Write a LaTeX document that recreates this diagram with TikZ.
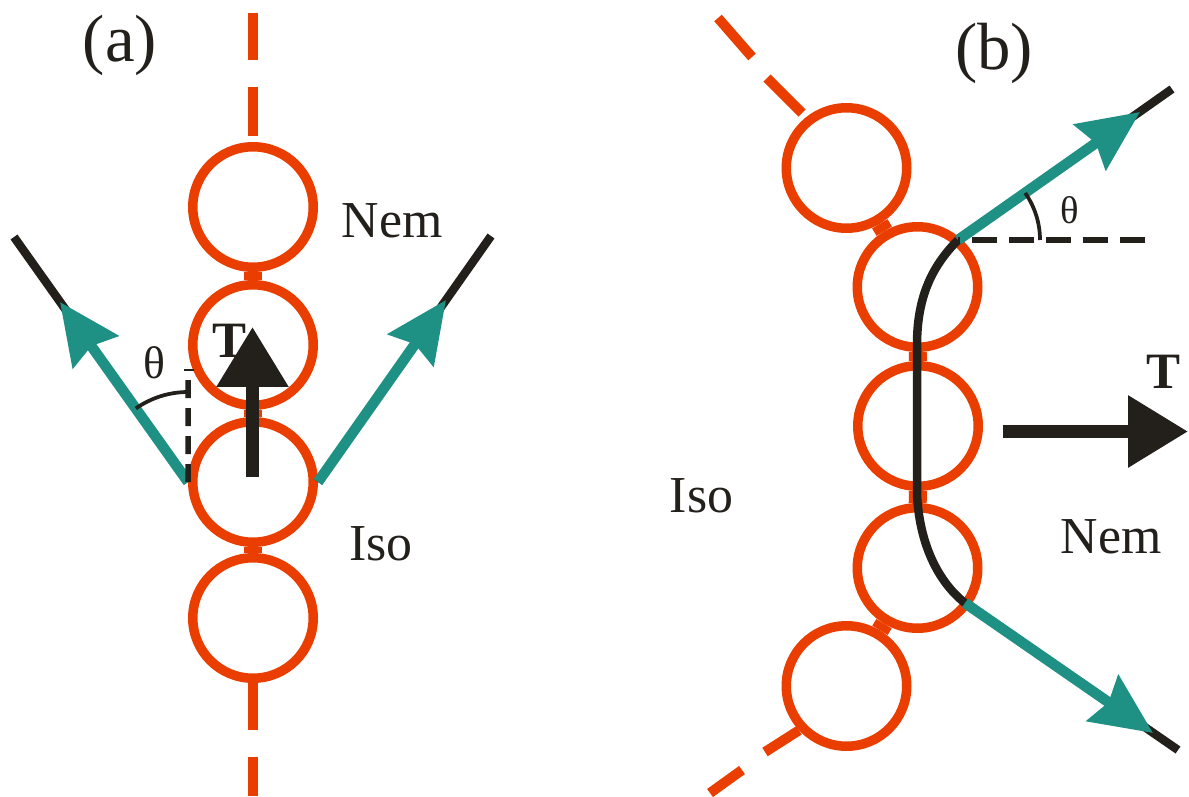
\documentclass[tikz,border=0pt]{standalone}
\usepackage{fontspec}
\setmainfont{Liberation Serif}
\usetikzlibrary{arrows.meta}
\definecolor{orng}{RGB}{234,61,0}
\definecolor{tealc}{RGB}{31,144,132}
\definecolor{blk}{RGB}{35,31,27}
\begin{document}
\begin{tikzpicture}[x=0.02cm,y=0.02cm,
  bead/.style={circle, draw=orng, line width=0.19cm, minimum size=2.41cm, inner sep=0pt},
  link/.style={draw=orng, line width=0.36cm},
  tail/.style={draw=orng, line width=0.2cm},
  rod/.style={draw=blk, line width=0.17cm},
  dirarrow/.style={draw=tealc, line width=0.21cm, -{Stealth[length=1.22cm,width=1.1cm,inset=0.14cm]}},
  force/.style={draw=blk, line width=0.25cm, -{Triangle[length=1.2cm,width=1.38cm]}},
  guide/.style={draw=blk, line width=0.11cm},
  ang/.style={draw=blk, line width=0.075cm},
  lbl/.style={font=\fontsize{29.5}{34}\selectfont, text=blk, inner sep=0pt, anchor=base},
  panel/.style={font=\fontsize{38}{44}\selectfont, text=blk, inner sep=0pt, anchor=base},
  tlbl/.style={font=\fontsize{29}{34}\selectfont\bfseries, text=blk, inner sep=0pt, anchor=base}
]
\useasboundingbox (0,0) rectangle (1189,796);

% ---------- panel (a) ----------
\node[bead] (a1) at (253,589) {};
\node[bead] (a2) at (253,451) {};
\node[bead] (a3) at (253,314) {};
\node[bead] (a4) at (253,178) {};
\draw[link] (a1) -- (a2);
\draw[link] (a2) -- (a3);
\draw[link] (a3) -- (a4);
\coordinate (at1) at (253,660); \coordinate (at2) at (253,709);
\coordinate (at3) at (253,736); \coordinate (at4) at (253,783);
\draw[tail] (at1) -- (at2);
\draw[tail] (at3) -- (at4);
\coordinate (ab1) at (253,66); \coordinate (ab2) at (253,39); \coordinate (ab3) at (253,0);
\draw[tail] (a4.south) -- (ab1);
\draw[tail] (ab2) -- (ab3);

% director lines
\coordinate (alt) at (60,494);  \coordinate (ale) at (14,559);
\coordinate (art) at (446,496); \coordinate (are) at (491,560);
\draw[rod] (a3.west) -- (ale);
\draw[rod] (a3.east) -- (are);
\draw[dirarrow] (a3.west) -- (alt);
\draw[dirarrow] (a3.east) -- (art);

% angle construction
\coordinate (avt) at (188,426);
\draw[guide, dash pattern=on 0.36cm off 0.2cm] (a3.west) -- (avt);
\draw[draw=blk, line width=0.04cm] (184,426) -- (194,426);
\draw[ang] (188,404) arc[start angle=90, end angle=125, radius=1.82cm];
\node[font=\fontsize{26}{30}\selectfont, text=blk, inner sep=0pt] (ath) at (154,433) {θ};

% force
\node[tlbl] (aT) at (229,439) {T};
\coordinate (afs) at (252.5,319); \coordinate (afe) at (252.5,469);
\draw[force] (afs) -- (afe);

\node[panel] (alab) at (120,734) {(a)};
\node[lbl] (anem) at (392,559) {Nem};
\node[lbl] (aiso) at (381,236) {Iso};

% ---------- panel (b) ----------
\node[bead] (b1) at (846.5,628) {};
\node[bead] (b2) at (917.5,509) {};
\node[bead] (b3) at (918,370) {};
\node[bead] (b4) at (917.5,228) {};
\node[bead] (b5) at (846.5,110) {};
\draw[link] (b1) -- (b2);
\draw[link] (b2) -- (b3);
\draw[link] (b3) -- (b4);
\draw[link] (b4) -- (b5);
\coordinate (bt1) at (718,778); \coordinate (bt2) at (752,739);
\coordinate (bt3) at (767,718); \coordinate (bt4) at (802,683);
\draw[tail] (bt1) -- (bt2);
\draw[tail] (bt3) -- (bt4);
\coordinate (bb1) at (765,44); \coordinate (bb2) at (742,26); \coordinate (bb3) at (710,3);
\draw[tail] (b5.223) -- (bb1);
\draw[tail] (bb2) -- (bb3);

% interface director curve
\coordinate (bs1) at (958,556);
\coordinate (bs2) at (965,193);
\draw[rod] (bs1) .. controls (930,528) and (917,496) .. (917,451)
  -- (917,301) .. controls (920,246) and (942,211) .. (bs2);
\coordinate (but) at (1140,684); \coordinate (bue) at (1172,707);
\coordinate (blt) at (1153,63);  \coordinate (ble) at (1178,46);
\draw[rod] (bs1) -- (bue);
\draw[rod] (bs2) -- (ble);
\draw[dirarrow] (bs1) -- (but);
\draw[dirarrow] (bs2) -- (blt);

% angle construction
\coordinate (bh) at (1146,556);
\draw[guide, line width=0.12cm, dash pattern=on 0.5cm off 0.24cm, dash phase=-0.28cm] (bs1) -- (bh);
\draw[ang] (1040,556) arc[start angle=0, end angle=35, radius=1.64cm];
\node[font=\fontsize{22}{26}\selectfont, text=blk, inner sep=0pt] (bth) at (1070,586) {θ};

% force
\coordinate (bfs) at (1003,364.5); \coordinate (bfe) at (1188,364.5);
\draw[force, line width=0.26cm] (bfs) -- (bfe);
\node[tlbl] (bT) at (1163,408) {T};

\node[panel] (blab) at (994,726) {(b)};
\node[lbl] (bnem) at (1111,243) {Nem};
\node[lbl] (biso) at (701.5,284) {Iso};
\end{tikzpicture}
\end{document}
